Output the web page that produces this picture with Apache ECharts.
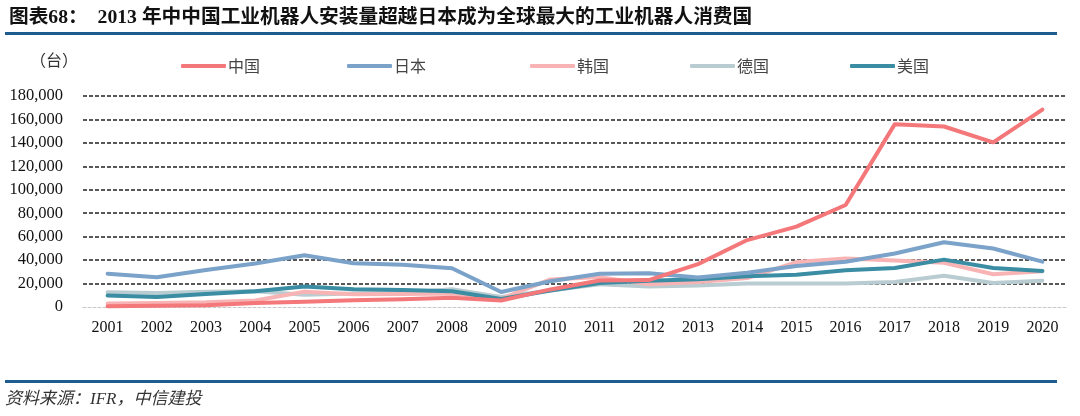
<!DOCTYPE html>
<html>
<head>
<meta charset="utf-8">
<script src="https://cdn.jsdelivr.net/npm/echarts@6/dist/echarts.min.js"></script>
<style>
html,body{margin:0;padding:0;background:#fff;}
#chart{width:1080px;height:416px;}
</style>
</head>
<body>
<div id="chart"></div>
<script>
const years = ['2001','2002','2003','2004','2005','2006','2007','2008','2009','2010','2011','2012','2013','2014','2015','2016','2017','2018','2019','2020'];
const seriesNames = ['中国','日本','韩国','德国','美国'];
const china   = [700,1000,1400,3500,4500,5800,6600,7900,5500,15000,22600,23000,36600,57100,68600,87000,156000,154000,140500,168400];
const japan   = [28400,25400,31600,37100,44100,37400,36100,33100,12800,21900,28400,28700,25100,29300,35000,38600,45600,55200,49900,38700];
const korea   = [3000,3500,4000,5500,13000,10800,11100,11600,7000,23500,25500,19400,21300,24700,38300,41400,39700,37800,27900,30500];
const germany = [12500,11900,13100,13400,10500,11500,12000,15100,8500,14100,19500,17500,18300,20100,20100,20000,21400,26700,20500,22300];
const usa     = [9800,8500,11000,13500,17500,15200,14600,13500,6800,14000,20500,22400,23700,26200,27500,31400,33200,40400,33300,30800];
const colors  = ['#F4777A','#7BA2C9','#F8B4B4','#B9CCD1','#3A8DA3'];
const yTicks = [0,20000,40000,60000,80000,100000,120000,140000,160000,180000];

const chart = echarts.init(document.getElementById('chart'));
const dataList = [china, japan, korea, germany, usa];
const z = [5,4,2,1,3];
const legendLeft = [176, 342, 525, 685, 845];
const serif = '"Liberation Serif", "Noto Sans CJK SC", serif';
const sans = '"Noto Sans CJK SC", sans-serif';

chart.setOption({
  animation: false,
  color: colors,
  title: {
    text: '图表68：  2013 年中中国工业机器人安装量超越日本成为全球最大的工业机器人消费国',
    left: 4, top: 3,
    textStyle: {fontFamily: serif, fontWeight: 'bold', fontSize: 19.7, color: '#111'}
  },
  legend: seriesNames.map((n,i) => ({
    data: [n],
    left: legendLeft[i], top: 53,
    icon: 'roundRect',
    itemWidth: 45, itemHeight: 4,
    textStyle: {fontFamily: sans, fontSize: 16, color: '#444', padding: [0,0,0,-3]}
  })),
  grid: {left: 83, right: 13, top: 96, bottom: 109},
  xAxis: {
    type: 'category',
    data: years,
    boundaryGap: true,
    axisLine: {show: true, lineStyle: {color: '#c8c8c8', width: 1, type: [3,2]}},
    axisTick: {show: false},
    axisLabel: {fontFamily: serif, fontSize: 16, color: '#111', margin: 13, interval: 0}
  },
  yAxis: {
    type: 'value',
    min: yTicks[0], max: yTicks[yTicks.length-1], interval: 20000,
    axisLine: {show: false},
    axisTick: {show: false},
    axisLabel: {fontFamily: serif, fontSize: 16.5, color: '#111', margin: 20,
      formatter: v => v.toLocaleString('en-US')},
    splitLine: {show: true, lineStyle: {color: ['rgba(0,0,0,0)','#222','#222','#222','#222','#222','#222','#222','#222','#222'], width: 1.5, type: [4,2]}}
  },
  series: seriesNames.map((n,i) => ({
    name: n, type: 'line', data: dataList[i], z: z[i],
    symbol: 'none', smooth: false,
    lineStyle: {width: 4, color: colors[i], cap: 'round', join: 'round'}
  })),
  graphic: [
    {type: 'rect', shape: {x: 5, y: 32, width: 1052, height: 3}, style: {fill: '#1E5B8E'}},
    {type: 'rect', shape: {x: 5, y: 380, width: 1052, height: 3}, style: {fill: '#1E5B8E'}},
    {type: 'text', left: 30, top: 52, style: {text: '（台）', font: '16px ' + sans, fill: '#333'}},
    {type: 'text', left: 5, top: 391, style: {text: '资料来源：IFR，中信建投', font: 'italic 17px ' + serif, fill: '#333'}}
  ]
});
</script>
</body>
</html>
